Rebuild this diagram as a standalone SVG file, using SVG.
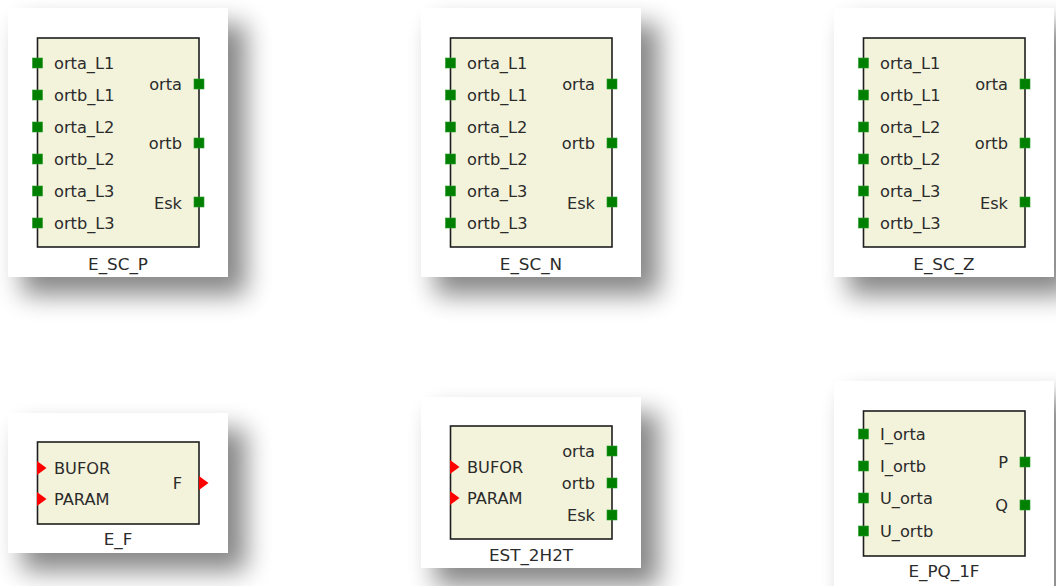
<svg xmlns="http://www.w3.org/2000/svg" width="1056" height="586" viewBox="0 0 1056 586">
<defs>
<filter id="sh" x="-50%" y="-50%" width="200%" height="200%"><feGaussianBlur stdDeviation="13"/></filter>
<style>
.bg{fill:#ffffff}
.shd{fill:#000;opacity:0.47;filter:url(#sh)}
.card{fill:#ffffff}
.box{fill:#f3f3dc;stroke:#1e1e1e;stroke-width:1.6}
.gp{fill:#008000;stroke:#2a9a2a;stroke-width:0.6}
.rp{fill:#ff0000}
text{font-family:"DejaVu Sans",Verdana,sans-serif;font-size:15px;fill:#2b2b2b}
.e{text-anchor:end}
.m{text-anchor:middle}
</style>
</defs>
<rect class="bg" x="0" y="0" width="1056" height="586"/>
<g id="connectors"/>

<g id="E_SC_P">
<rect class="shd" x="22" y="24" width="224" height="271"/>
<rect class="card" x="8" y="8" width="220" height="269"/>
<rect class="box" x="37.5" y="38" width="161.5" height="209"/>
<rect class="gp" x="32.5" y="58" width="10" height="10"/>
<rect class="gp" x="32.5" y="90" width="10" height="10"/>
<rect class="gp" x="32.5" y="122" width="10" height="10"/>
<rect class="gp" x="32.5" y="154" width="10" height="10"/>
<rect class="gp" x="32.5" y="186" width="10" height="10"/>
<rect class="gp" x="32.5" y="218" width="10" height="10"/>
<rect class="gp" x="194" y="79" width="10" height="10"/>
<rect class="gp" x="194" y="138" width="10" height="10"/>
<rect class="gp" x="194" y="197" width="10" height="10"/>
<text transform="translate(54 68.5) scale(1.08 1)">orta_L1</text>
<text transform="translate(54 100.5) scale(1.08 1)">ortb_L1</text>
<text transform="translate(54 132.5) scale(1.08 1)">orta_L2</text>
<text transform="translate(54 164.5) scale(1.08 1)">ortb_L2</text>
<text transform="translate(54 196.5) scale(1.08 1)">orta_L3</text>
<text transform="translate(54 228.5) scale(1.08 1)">ortb_L3</text>
<text class="e" transform="translate(182 89.5) scale(1.08 1)">orta</text>
<text class="e" transform="translate(182 148.5) scale(1.08 1)">ortb</text>
<text class="e" transform="translate(182 208.5) scale(1.08 1)">Esk</text>
<text class="m" transform="translate(118 270) scale(1.12 1)">E_SC_P</text>
</g>

<g id="E_SC_N">
<rect class="shd" x="435" y="24" width="224" height="271"/>
<rect class="card" x="421" y="8" width="220" height="269"/>
<rect class="box" x="450.5" y="38" width="161.5" height="209"/>
<rect class="gp" x="445.5" y="58" width="10" height="10"/>
<rect class="gp" x="445.5" y="90" width="10" height="10"/>
<rect class="gp" x="445.5" y="122" width="10" height="10"/>
<rect class="gp" x="445.5" y="154" width="10" height="10"/>
<rect class="gp" x="445.5" y="186" width="10" height="10"/>
<rect class="gp" x="445.5" y="218" width="10" height="10"/>
<rect class="gp" x="607" y="79" width="10" height="10"/>
<rect class="gp" x="607" y="138" width="10" height="10"/>
<rect class="gp" x="607" y="197" width="10" height="10"/>
<text transform="translate(467 68.5) scale(1.08 1)">orta_L1</text>
<text transform="translate(467 100.5) scale(1.08 1)">ortb_L1</text>
<text transform="translate(467 132.5) scale(1.08 1)">orta_L2</text>
<text transform="translate(467 164.5) scale(1.08 1)">ortb_L2</text>
<text transform="translate(467 196.5) scale(1.08 1)">orta_L3</text>
<text transform="translate(467 228.5) scale(1.08 1)">ortb_L3</text>
<text class="e" transform="translate(595 89.5) scale(1.08 1)">orta</text>
<text class="e" transform="translate(595 148.5) scale(1.08 1)">ortb</text>
<text class="e" transform="translate(595 208.5) scale(1.08 1)">Esk</text>
<text class="m" transform="translate(531 270) scale(1.12 1)">E_SC_N</text>
</g>

<g id="E_SC_Z">
<rect class="shd" x="848" y="24" width="224" height="271"/>
<rect class="card" x="834" y="8" width="220" height="269"/>
<rect class="box" x="863.5" y="38" width="161.5" height="209"/>
<rect class="gp" x="858.5" y="58" width="10" height="10"/>
<rect class="gp" x="858.5" y="90" width="10" height="10"/>
<rect class="gp" x="858.5" y="122" width="10" height="10"/>
<rect class="gp" x="858.5" y="154" width="10" height="10"/>
<rect class="gp" x="858.5" y="186" width="10" height="10"/>
<rect class="gp" x="858.5" y="218" width="10" height="10"/>
<rect class="gp" x="1020" y="79" width="10" height="10"/>
<rect class="gp" x="1020" y="138" width="10" height="10"/>
<rect class="gp" x="1020" y="197" width="10" height="10"/>
<text transform="translate(880 68.5) scale(1.08 1)">orta_L1</text>
<text transform="translate(880 100.5) scale(1.08 1)">ortb_L1</text>
<text transform="translate(880 132.5) scale(1.08 1)">orta_L2</text>
<text transform="translate(880 164.5) scale(1.08 1)">ortb_L2</text>
<text transform="translate(880 196.5) scale(1.08 1)">orta_L3</text>
<text transform="translate(880 228.5) scale(1.08 1)">ortb_L3</text>
<text class="e" transform="translate(1008 89.5) scale(1.08 1)">orta</text>
<text class="e" transform="translate(1008 148.5) scale(1.08 1)">ortb</text>
<text class="e" transform="translate(1008 208.5) scale(1.08 1)">Esk</text>
<text class="m" transform="translate(944 270) scale(1.12 1)">E_SC_Z</text>
</g>

<g id="E_F">
<rect class="shd" x="22" y="429" width="224" height="142"/>
<rect class="card" x="8" y="413" width="220" height="140"/>
<rect class="box" x="37.5" y="442" width="161.5" height="82"/>
<polygon class="rp" points="37,461 46.5,468 37,475"/>
<polygon class="rp" points="37,492 46.5,499 37,506"/>
<polygon class="rp" points="199,476 208.5,483 199,490"/>
<text transform="translate(54 473.5) scale(1.08 1)">BUFOR</text>
<text transform="translate(54 504.5) scale(1.08 1)">PARAM</text>
<text class="e" transform="translate(182 488.5) scale(1.08 1)">F</text>
<text class="m" transform="translate(118 545) scale(1.12 1)">E_F</text>
</g>

<g id="EST_2H2T">
<rect class="shd" x="435" y="413" width="224" height="173"/>
<rect class="card" x="421" y="397" width="220" height="171"/>
<rect class="box" x="450.5" y="426" width="161.5" height="113"/>
<polygon class="rp" points="450,460 459.5,467 450,474"/>
<polygon class="rp" points="450,491 459.5,498 450,505"/>
<rect class="gp" x="607" y="446" width="10" height="10"/>
<rect class="gp" x="607" y="478" width="10" height="10"/>
<rect class="gp" x="607" y="510" width="10" height="10"/>
<text transform="translate(467 472.5) scale(1.08 1)">BUFOR</text>
<text transform="translate(467 503.5) scale(1.08 1)">PARAM</text>
<text class="e" transform="translate(595 456.5) scale(1.08 1)">orta</text>
<text class="e" transform="translate(595 488.5) scale(1.08 1)">ortb</text>
<text class="e" transform="translate(595 520.5) scale(1.08 1)">Esk</text>
<text class="m" transform="translate(531 561) scale(1.12 1)">EST_2H2T</text>
</g>

<g id="E_PQ_1F">
<rect class="shd" x="848" y="397" width="224" height="222"/>
<rect class="card" x="834" y="381" width="220" height="220"/>
<rect class="box" x="863.5" y="411" width="161.5" height="145"/>
<rect class="gp" x="858.5" y="429" width="10" height="10"/>
<rect class="gp" x="858.5" y="461" width="10" height="10"/>
<rect class="gp" x="858.5" y="493" width="10" height="10"/>
<rect class="gp" x="858.5" y="526" width="10" height="10"/>
<rect class="gp" x="1020" y="457" width="10" height="10"/>
<rect class="gp" x="1020" y="500" width="10" height="10"/>
<text transform="translate(880 440) scale(1.08 1)">I_orta</text>
<text transform="translate(880 472) scale(1.08 1)">I_ortb</text>
<text transform="translate(880 504) scale(1.08 1)">U_orta</text>
<text transform="translate(880 537) scale(1.08 1)">U_ortb</text>
<text class="e" transform="translate(1008 468) scale(1.08 1)">P</text>
<text class="e" transform="translate(1008 511) scale(1.08 1)">Q</text>
<text class="m" transform="translate(944 577) scale(1.12 1)">E_PQ_1F</text>
</g>
</svg>
